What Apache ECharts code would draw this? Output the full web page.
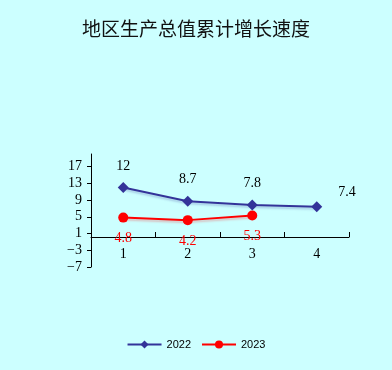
<!DOCTYPE html>
<html><head><meta charset="utf-8">
<script src="https://cdn.jsdelivr.net/npm/echarts@6/dist/echarts.min.js"></script>
<style>html,body{margin:0;padding:0;background:#CCFFFF;}#c{width:392px;height:370px;}</style>
</head><body><div id="c"></div>
<script>
const title = '地区生产总值累计增长速度';
const categories = ['1', '2', '3', '4'];
const seriesNames = ['2022', '2023'];
const values2022 = [12, 8.7, 7.8, 7.4];
const values2023 = [4.8, 4.2, 5.3];
const yTicks = [-7, -3, 1, 5, 9, 13, 17];

const chart = echarts.init(document.getElementById('c'), null, {renderer: 'canvas'});
const numFont = '"Liberation Serif", "Times New Roman", serif';
const data2022 = values2022.map((v, i) => i === 3
  ? {value: v, label: {position: 'right', distance: 16, offset: [0, -14]}}
  : v);
chart.setOption({
  backgroundColor: '#CCFFFF',
  animation: false,
  title: {
    text: title, left: 'center', top: 14,
    textStyle: {fontFamily: '"Noto Sans CJK SC"', fontSize: 19, fontWeight: 'normal', color: '#111'}
  },
  legend: {
    bottom: 15, left: 'center', itemWidth: 34, itemHeight: 10, itemGap: 10,
    textStyle: {fontFamily: '"Liberation Sans", Arial, sans-serif', fontSize: 11, color: '#000'},
    data: seriesNames
  },
  grid: {left: 91, right: 43, top: 154, bottom: 103},
  xAxis: {
    type: 'category', data: categories, boundaryGap: true,
    offset: -30,
    axisLine: {onZero: false, lineStyle: {color: '#000', width: 1}},
    axisTick: {show: true, inside: true, length: 5, lineStyle: {color: '#000'}},
    axisLabel: {margin: 10, fontFamily: numFont, fontSize: 14, color: '#000'},
    splitLine: {show: false}
  },
  yAxis: {
    type: 'value', min: -7, max: 20,
    axisLine: {show: true, onZero: false, lineStyle: {color: '#000', width: 1}},
    axisTick: {show: true, length: 4, customValues: yTicks, lineStyle: {color: '#000'}},
    axisLabel: {margin: 9, fontFamily: numFont, fontSize: 14, color: '#000', customValues: yTicks,
      formatter: v => (v < 0 ? '\u2212' + Math.abs(v) : String(v))},
    splitLine: {show: false}
  },
  series: [
    {
      name: seriesNames[0], type: 'line', data: data2022,
      symbol: 'diamond', symbolSize: 11,
      itemStyle: {color: '#333399'},
      lineStyle: {color: '#333399', width: 2, shadowColor: 'rgba(51,51,153,0.25)', shadowBlur: 2, shadowOffsetY: 2},
      label: {show: true, position: 'top', distance: 9, fontFamily: numFont, fontSize: 14, color: '#000'}
    },
    {
      name: seriesNames[1], type: 'line', data: values2023,
      symbol: 'circle', symbolSize: 10,
      itemStyle: {color: '#FF0000'},
      lineStyle: {color: '#FF0000', width: 2, shadowColor: 'rgba(255,0,0,0.25)', shadowBlur: 2, shadowOffsetY: 2},
      label: {show: true, position: 'bottom', distance: 9, fontFamily: numFont, fontSize: 14, color: '#FF0000'}
    }
  ]
});
</script></body></html>
